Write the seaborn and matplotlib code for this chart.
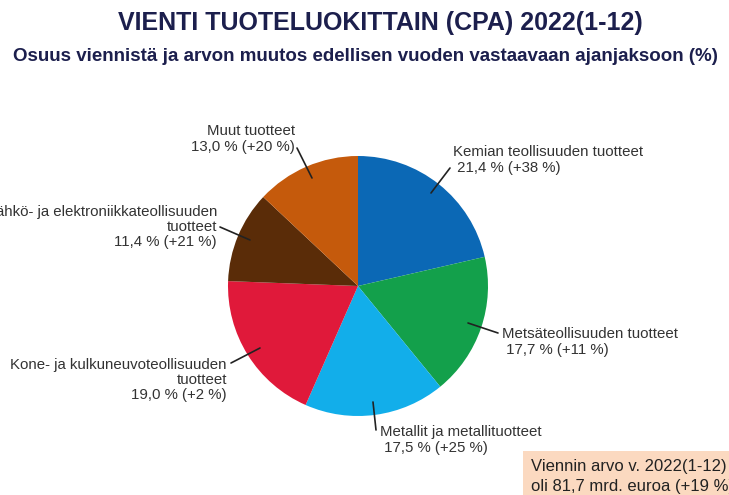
import matplotlib
matplotlib.use("Agg")
import matplotlib.pyplot as plt
import seaborn as sns

categories = [
    "Kemian teollisuuden tuotteet",
    "Metsäteollisuuden tuotteet",
    "Metallit ja metallituotteet",
    "Kone- ja kulkuneuvoteollisuuden\ntuotteet",
    "Sähkö- ja elektroniikkateollisuuden\ntuotteet",
    "Muut tuotteet",
]
shares = [21.4, 17.7, 17.5, 19.0, 11.4, 13.0]
changes = [38, 11, 25, 2, 21, 20]
colors = ["#0b68b5", "#13a04b", "#12aeea", "#e0193a", "#5a2c08", "#c55a0c"]

sns.set_theme(style="white")
plt.rcParams["font.family"] = ["Liberation Sans", "DejaVu Sans"]

W, H = 729, 495
fig = plt.figure(figsize=(W / 100, H / 100), dpi=100)
ax = fig.add_axes([0, 0, 1, 1])
ax.set_xlim(0, W)
ax.set_ylim(0, H)
ax.set_aspect("equal")
ax.axis("off")

cx, cy, r = 358, H - 286, 130
ax.pie(shares, colors=colors, startangle=90, counterclock=False,
       center=(cx, cy), radius=r, wedgeprops=dict(linewidth=0))
ax.set_xlim(0, W)
ax.set_ylim(0, H)

def fmt(s, c):
    return f"{s:.1f}".replace(".", ",") + f" % (+{c} %)"

# (text x, text y (top-down px), ha, leader start, leader end)
layout = [
    (453, 160, "left", (431, 193), (450, 168)),
    (502, 342, "left", (468, 323), (498, 333)),
    (380, 440, "left", (373, 402), (376, 430)),
    (227, 380, "right", (260, 348), (231, 363)),
    (217, 227, "right", (250, 240), (220, 227)),
    (295, 139, "right", (312, 178), (297, 148)),
]
for cat, s, c, (tx, ty, ha, p0, p1) in zip(categories, shares, changes, layout):
    pad = " " if ha == "left" else ""
    lab = f"{cat}\n{pad}{fmt(s, c)}"
    ax.text(tx, H - ty, lab, ha=ha, va="center", fontsize=10.8,
            color="#333333", linespacing=1.12)
    ax.plot([p0[0], p1[0]], [H - p0[1], H - p1[1]], color="#222222", lw=1.2)

fig.text(380 / W, 1 - 23 / H, "VIENTI TUOTELUOKITTAIN (CPA) 2022(1-12)",
         ha="center", va="center", fontsize=18, fontweight="bold", color="#1c1f4d")
fig.text(365 / W, 1 - 56 / H,
         "Osuus viennistä ja arvon muutos edellisen vuoden vastaavaan ajanjaksoon (%)",
         ha="center", va="center", fontsize=13.5, fontweight="bold", color="#1c1f4d")

ax.add_patch(plt.Rectangle((523, 0), W - 523, H - 451, color="#fbd9c0", lw=0))
ax.text(531, H - 466, "Viennin arvo v. 2022(1-12)", ha="left", va="center",
        fontsize=12, color="#222222")
ax.text(531, H - 487, "oli 81,7 mrd. euroa (+19 %)", ha="left", va="center",
        fontsize=12, color="#222222")

fig.savefig("out.png", dpi=100)
